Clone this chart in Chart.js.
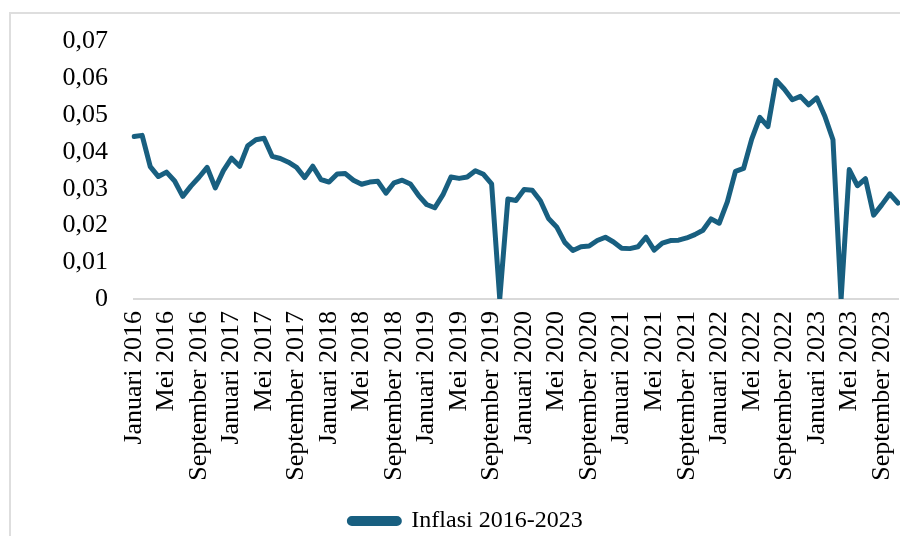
<!DOCTYPE html>
<html>
<head>
<meta charset="utf-8">
<title>Inflasi 2016-2023</title>
<script src="https://cdn.jsdelivr.net/npm/chart.js@4.4.0/dist/chart.umd.min.js"></script>
<style>
    body { margin: 0; background: #fff; overflow: hidden; }
    .wrap { position: relative; width: 900px; height: 536px; overflow: hidden; }
    .bingkai { position: absolute; left: 9px; top: 12px; width: 1000px; height: 1000px; border: 2px solid #dedede; }
    #grafikInflasi { position: absolute; left: 0; top: 0; }
</style>
</head>
<body>
<div class="wrap">
    <div class="bingkai"></div>
    <canvas id="grafikInflasi" width="900" height="543"></canvas>
</div>
<script>
// nilai inflasi per tahun (label sumbu x)
const inflasi2016 = [0.0442, 0.0445, 0.0360, 0.0333, 0.0345, 0.0321, 0.0279, 0.0307, 0.0331, 0.0358, 0.0302, 0.0349];
const inflasi2017 = [0.0383, 0.0361, 0.0417, 0.0433, 0.0437, 0.0388, 0.0382, 0.0372, 0.0358, 0.0330, 0.0361, 0.0325];
const inflasi2018 = [0.0318, 0.0340, 0.0341, 0.0323, 0.0312, 0.0318, 0.0320, 0.0288, 0.0316, 0.0323, 0.0313, 0.0282];
const inflasi2019 = [0.0257, 0.0248, 0.0283, 0.0332, 0.0328, 0.0332, 0.0349, 0.0339, 0.0313, 0, 0.0272, 0.0268];
const inflasi2020 = [0.0298, 0.0296, 0.0267, 0.0219, 0.0196, 0.0154, 0.0132, 0.0142, 0.0144, 0.0159, 0.0168, 0.0155];
const inflasi2021 = [0.0138, 0.0137, 0.0142, 0.0168, 0.0133, 0.0152, 0.0159, 0.0160, 0.0166, 0.0175, 0.0187, 0.0218];
const inflasi2022 = [0.0206, 0.0264, 0.0347, 0.0355, 0.0435, 0.0494, 0.0469, 0.0595, 0.0571, 0.0542, 0.0551, 0.0528];
const inflasi2023 = [0.0547, 0.0497, 0.0433, 0, 0.0352, 0.0308, 0.0327, 0.0228, 0.0256, 0.0286, 0.0261];

const bulan = ['Januari', 'Februari', 'Maret', 'April', 'Mei', 'Juni', 'Juli', 'Agustus', 'September', 'Oktober', 'November', 'Desember'];
const tahun = [2016, 2017, 2018, 2019, 2020, 2021, 2022, 2023];
const yTicks = [0, 0.01, 0.02, 0.03, 0.04, 0.05, 0.06, 0.07];

const perTahun = [inflasi2016, inflasi2017, inflasi2018, inflasi2019, inflasi2020, inflasi2021, inflasi2022, inflasi2023];

const labels = [];
const nilai = [];
perTahun.forEach((arr, i) => {
    arr.forEach((v, j) => {
        labels.push(`${bulan[j]} ${tahun[i]}`);
        nilai.push(v);
    });
});

const warnaGaris = '#185f80';
const fontSerif = 'Liberation Serif, Times New Roman, serif';

const ctx = document.getElementById('grafikInflasi').getContext('2d');
new Chart(ctx, {
    type: 'line',
    data: {
        labels: labels,
        datasets: [{
            label: 'Inflasi 2016-2023',
            data: nilai,
            borderColor: warnaGaris,
            backgroundColor: warnaGaris,
            borderWidth: 5,
            borderJoinStyle: 'round',
            borderCapStyle: 'round',
            tension: 0,
            pointRadius: 0,
            fill: false
        }]
    },
    options: {
        responsive: false,
        animation: false,
        layout: {
            padding: { left: 34, right: 2, top: 38, bottom: 0 }
        },
        scales: {
            x: {
                grid: { display: false, drawTicks: false },
                border: { display: true, color: '#d9d9d9', width: 2 },
                ticks: {
                    autoSkip: false,
                    minRotation: 90,
                    maxRotation: 90,
                    padding: 12,
                    color: '#000',
                    font: { family: fontSerif, size: 26 },
                    callback: function(val, i) {
                        return i % 4 === 0 ? labels[i] : '';
                    }
                },
                afterFit: function(scale) {
                    // jangan sisakan ruang di kanan, garis sampai tepi
                    scale.height = 200;
                    scale.paddingLeft = 0;
                    scale.paddingRight = 0;
                }
            },
            y: {
                min: yTicks[0],
                max: yTicks[yTicks.length - 1],
                grid: { display: false, drawTicks: false },
                border: { display: false },
                afterBuildTicks: function(scale) {
                    scale.ticks = yTicks.map(v => ({ value: v }));
                },
                ticks: {
                    padding: 26,
                    color: '#000',
                    font: { family: fontSerif, size: 26 },
                    callback: function(v) {
                        return v === 0 ? '0' : v.toFixed(2).replace('.', ',');
                    }
                },
                afterFit: function(scale) {
                    scale.width = 100;
                }
            }
        },
        plugins: {
            legend: {
                position: 'bottom',
                labels: {
                    boxWidth: 50,
                    boxHeight: 5,
                    padding: 10,
                    color: '#000',
                    useBorderRadius: true,
                    borderRadius: 2.5,
                    font: { family: fontSerif, size: 24 }
                }
            },
            tooltip: { enabled: false }
        }
    }
});
</script>
</body>
</html>
